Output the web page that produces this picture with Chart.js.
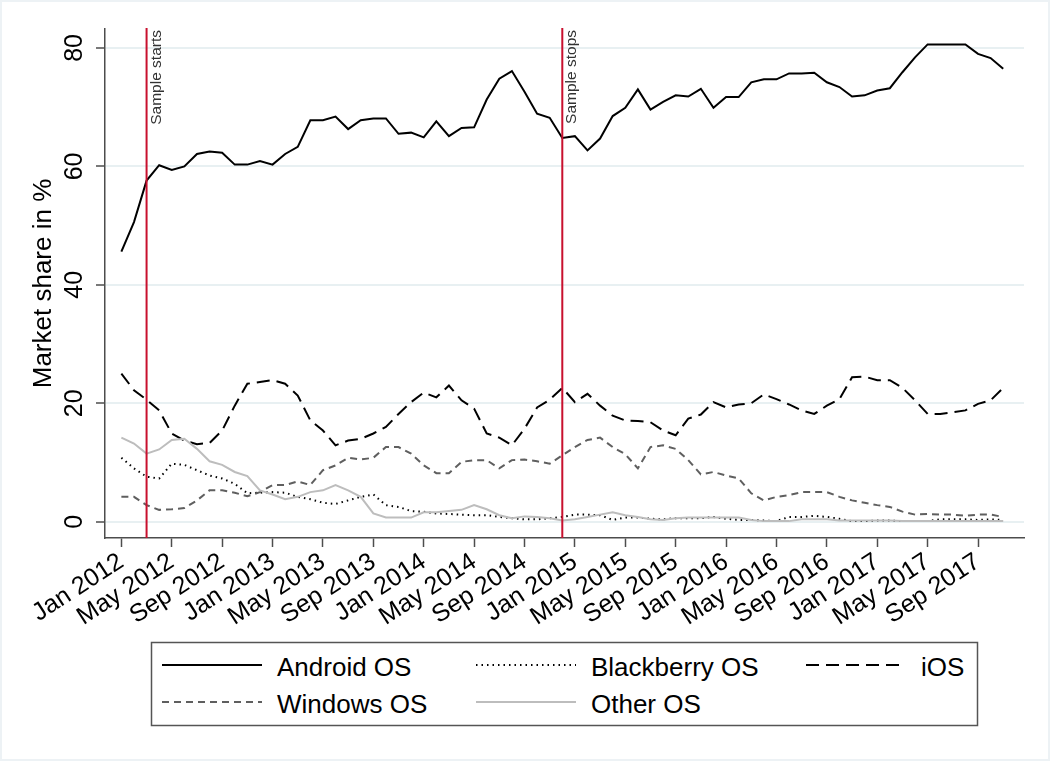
<!DOCTYPE html>
<html>
<head>
<meta charset="utf-8">
<script src="https://cdn.jsdelivr.net/npm/chart.js@4"></script>
<style>
  html, body { margin: 0; padding: 0; background: #fff; }
  #page { position: relative; width: 1050px; height: 761px; overflow: hidden; }
  #frame { position: absolute; left: 0; top: 0; right: 0; bottom: 0; border: 2px solid #edf2f5; pointer-events: none; }
  #chartBox { position: absolute; left: 0; top: 0; width: 1050px; height: 640px; }
  #legend { position: absolute; left: 0; top: 0; }
</style>
</head>
<body>
<div id="page">
  <div id="chartBox"><canvas id="chart" width="1050" height="640"></canvas></div>
  <svg id="legend" width="1050" height="761"></svg>
  <div id="frame"></div>
</div>
<script>
// monthly market shares, Jan 2012 (index 0) .. Nov 2017 (index 70)
const android = [45.6, 50.6, 57.6, 60.2, 59.4, 60.0, 62.1, 62.5, 62.3, 60.3, 60.3, 60.9,
  60.3, 62.1, 63.3, 67.8, 67.8, 68.4, 66.3, 67.8, 68.1, 68.1, 65.5, 65.7,
  64.9, 67.6, 65.1, 66.5, 66.6, 71.3, 74.8, 76.1, 72.6, 68.9, 68.2, 64.8,
  65.1, 62.7, 64.7, 68.5, 69.9, 73.0, 69.6, 70.9, 72.0, 71.8, 73.1, 69.9,
  71.7, 71.7, 74.2, 74.7, 74.7, 75.7, 75.7, 75.8, 74.2, 73.4, 71.8, 72.0,
  72.8, 73.2, 75.9, 78.4, 80.6, 80.6, 80.6, 80.6, 79.0, 78.3, 76.5];
const blackberry = [10.8, 9.0, 7.6, 7.3, 9.8, 9.6, 8.7, 7.8, 7.3, 6.4, 4.8, 4.9,
  5.0, 4.9, 4.2, 3.8, 3.2, 3.0, 3.6, 4.2, 4.6, 2.8, 2.5, 1.8,
  1.7, 1.4, 1.3, 1.2, 1.1, 1.1, 0.8, 0.6, 0.4, 0.4, 0.6, 0.8,
  1.2, 1.2, 1.1, 0.3, 0.7, 0.7, 0.5, 0.4, 0.6, 0.6, 0.6, 0.8,
  0.5, 0.3, 0.3, 0.2, 0.1, 0.8, 0.8, 1.0, 0.8, 0.5, 0.1, 0.1,
  0.2, 0.2, 0.1, 0.1, 0.1, 0.4, 0.4, 0.4, 0.3, 0.4, 0.3];
const ios = [25.0, 22.2, 20.6, 18.8, 14.9, 13.7, 13.1, 13.3, 15.4, 19.6, 23.3, 23.6,
  23.9, 23.3, 21.3, 17.1, 15.4, 12.9, 13.7, 14.0, 14.9, 16.0, 18.2, 20.2,
  21.8, 21.0, 23.0, 20.5, 19.1, 14.9, 14.2, 12.9, 15.7, 19.3, 20.6, 22.6,
  20.2, 21.6, 19.6, 17.9, 17.1, 17.0, 16.8, 15.4, 14.6, 17.4, 18.1, 20.2,
  19.3, 19.8, 20.0, 21.5, 20.7, 19.8, 18.8, 18.2, 19.6, 20.7, 24.4, 24.5,
  23.9, 23.9, 22.6, 20.5, 18.2, 18.2, 18.5, 18.8, 19.9, 20.5, 22.6];
const windows = [4.2, 4.2, 2.8, 2.0, 2.1, 2.3, 3.6, 5.3, 5.3, 4.9, 4.3, 5.0,
  6.2, 6.2, 6.8, 6.2, 8.7, 9.5, 10.8, 10.5, 10.8, 12.6, 12.6, 11.5,
  9.5, 8.2, 8.2, 10.1, 10.4, 10.4, 9.0, 10.4, 10.5, 10.2, 9.8, 11.2,
  12.6, 13.8, 14.2, 12.6, 11.4, 9.0, 12.6, 12.9, 12.3, 10.4, 8.0, 8.4,
  7.8, 7.3, 4.8, 3.6, 4.2, 4.5, 5.0, 5.0, 5.0, 4.2, 3.6, 3.2,
  2.8, 2.5, 1.7, 1.2, 1.3, 1.2, 1.2, 1.0, 1.2, 1.2, 0.8];
const other = [14.2, 13.2, 11.5, 12.2, 13.8, 14.0, 12.3, 10.2, 9.6, 8.4, 7.7, 5.3,
  4.6, 3.8, 4.2, 5.0, 5.3, 6.2, 5.3, 4.2, 1.4, 0.7, 0.7, 0.7,
  1.6, 1.6, 1.8, 2.0, 2.8, 2.1, 1.1, 0.6, 0.9, 0.8, 0.6, 0.2,
  0.4, 0.8, 1.2, 1.6, 1.1, 0.8, 0.4, 0.3, 0.6, 0.7, 0.7, 0.7,
  0.7, 0.7, 0.3, 0.1, 0.1, 0.1, 0.4, 0.4, 0.4, 0.2, 0.2, 0.2,
  0.2, 0.2, 0.1, 0.1, 0.1, 0.1, 0.1, 0.1, 0.1, 0.1, 0.1];

// x tick labels, one every 4 months from Jan 2012
const tickLabels = ["Jan 2012", "May 2012", "Sep 2012", "Jan 2013", "May 2013", "Sep 2013",
  "Jan 2014", "May 2014", "Sep 2014", "Jan 2015", "May 2015", "Sep 2015",
  "Jan 2016", "May 2016", "Sep 2016", "Jan 2017", "May 2017", "Sep 2017"];
const yTicks = [0, 20, 40, 60, 80];

// vertical markers (month index) and their labels
const markerMonths = [2, 35];
const markerLabels = ["Sample starts", "Sample stops"];

const FONT = "'Liberation Sans', Arial, Helvetica, sans-serif";
Chart.defaults.font.family = FONT;
Chart.defaults.color = "#000";

const toPoints = (arr) => arr.map((v, i) => ({ x: i, y: v }));

const series = [
    { label: "Android OS", data: android, color: "#000000", dash: [], order: 4 },
    { label: "Blackberry OS", data: blackberry, color: "#000000", dash: [1.5, 4], order: 3 },
    { label: "iOS", data: ios, color: "#000000", dash: [13, 7], order: 2 },
    { label: "Windows OS", data: windows, color: "#5f5f5f", dash: [7, 5], order: 1 },
    { label: "Other OS", data: other, color: "#bdbdbd", dash: [], order: 0 },
];

const overlay = {
    id: "overlay",
    afterDatasetsDraw(chart) {
        const { ctx, chartArea, scales } = chart;
        const x = scales.x;
        ctx.save();
        markerMonths.forEach((m, i) => {
            const px = x.getPixelForValue(m);
            ctx.strokeStyle = "#c8102e";
            ctx.lineWidth = 2;
            ctx.setLineDash([]);
            ctx.beginPath();
            ctx.moveTo(px, chartArea.top - 1);
            ctx.lineTo(px, chartArea.bottom);
            ctx.stroke();

            ctx.save();
            ctx.translate(px + 14, chartArea.top + 1);
            ctx.rotate(-Math.PI / 2);
            ctx.fillStyle = "#333";
            ctx.font = "15.5px " + FONT;
            ctx.textAlign = "right";
            ctx.textBaseline = "alphabetic";
            ctx.fillText(markerLabels[i], 0, 0);
            ctx.restore();
        });
        ctx.restore();
    },
    afterDraw(chart) {
        // rotated y tick labels like the original
        const { ctx, scales } = chart;
        const y = scales.y;
        ctx.save();
        ctx.fillStyle = "#000";
        ctx.font = "25px " + FONT;
        ctx.textAlign = "center";
        ctx.textBaseline = "alphabetic";
        yTicks.forEach((v) => {
            const py = y.getPixelForValue(v);
            ctx.save();
            ctx.translate(82, py);
            ctx.rotate(-Math.PI / 2);
            ctx.fillText(String(v), 0, 0);
            ctx.restore();
        });
        ctx.restore();
    },
};

const chart = new Chart(document.getElementById("chart"), {
    type: "line",
    data: {
        datasets: series.map((s) => ({
            label: s.label,
            data: toPoints(s.data),
            borderColor: s.color,
            backgroundColor: s.color,
            borderDash: s.dash,
            borderWidth: 2,
            pointRadius: 0,
            tension: 0,
            fill: false,
            order: s.order,
        })),
    },
    options: {
        responsive: false,
        animation: false,
        maintainAspectRatio: false,
        layout: { padding: { top: 29, right: 26, left: 0, bottom: 0 } },
        plugins: {
            legend: { display: false },
            tooltip: { enabled: false },
        },
        scales: {
            x: {
                type: "linear",
                min: -1.3,
                max: 71.65,
                border: { display: true, color: "#4d4d4d", width: 1.5 },
                grid: { drawOnChartArea: false, drawTicks: true, tickLength: 9, tickColor: "#4d4d4d", tickWidth: 1.5 },
                ticks: {
                    stepSize: 4,
                    includeBounds: false,
                    autoSkip: false,
                    minRotation: 33,
                    maxRotation: 33,
                    padding: 0,
                    font: { size: 25 },
                    color: "#000",
                    callback: (v) => tickLabels[v / 4] ?? "",
                },
                afterFit: (scale) => { scale.height = 102; },
            },
            y: {
                min: -2.75,
                max: 83.2,
                border: { display: true, color: "#4d4d4d", width: 1.5 },
                grid: { color: "#e8f0f2", lineWidth: 2, drawTicks: true, tickLength: 9, tickColor: "#4d4d4d", tickWidth: 1.5 },
                ticks: {
                    stepSize: 20,
                    includeBounds: false,
                    color: "rgba(0,0,0,0)",
                    font: { size: 25 },
                },
                title: {
                    display: true,
                    text: "Market share in %",
                    font: { size: 26 },
                    color: "#000",
                    padding: { top: 28, bottom: 0 },
                },
                afterFit: (scale) => { scale.width = 105; },
            },
        },
    },
    plugins: [overlay],
});

// Stata-style legend box: 3 columns, 2 rows
(function buildLegend() {
    const svg = document.getElementById("legend");
    const NS = "http://www.w3.org/2000/svg";
    const box = document.createElementNS(NS, "rect");
    box.setAttribute("x", 151.5);
    box.setAttribute("y", 642.5);
    box.setAttribute("width", 826);
    box.setAttribute("height", 83);
    box.setAttribute("fill", "#fff");
    box.setAttribute("stroke", "#555");
    box.setAttribute("stroke-width", 1.5);
    svg.appendChild(box);

    const colX = [162, 476, 806];
    const rowY = [665, 702];
    series.forEach((s, i) => {
        const cx = colX[i % 3];
        const ry = rowY[Math.floor(i / 3)];
        const ln = document.createElementNS(NS, "line");
        ln.setAttribute("x1", cx);
        ln.setAttribute("x2", cx + 100);
        ln.setAttribute("y1", ry);
        ln.setAttribute("y2", ry);
        ln.setAttribute("stroke", s.color);
        ln.setAttribute("stroke-width", 2);
        if (s.dash.length) ln.setAttribute("stroke-dasharray", s.dash.join(" "));
        svg.appendChild(ln);

        const t = document.createElementNS(NS, "text");
        t.setAttribute("x", cx + 115);
        t.setAttribute("y", ry + 11);
        t.setAttribute("font-family", FONT);
        t.setAttribute("font-size", 26);
        t.setAttribute("fill", "#000");
        t.textContent = s.label;
        svg.appendChild(t);
    });
})();
</script>
</body>
</html>
